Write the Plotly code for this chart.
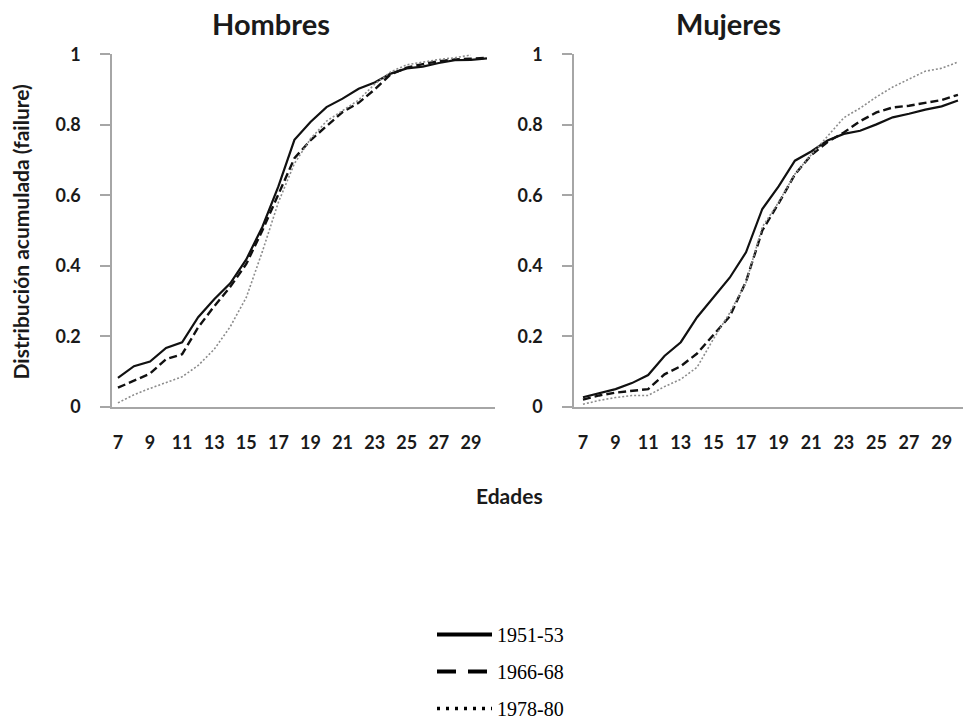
import plotly.graph_objects as go

ages = list(range(7, 31))
tick_ages = list(range(7, 31, 2))
y_ticks = [0, 0.2, 0.4, 0.6, 0.8, 1]
y_tick_text = ["0", "0.2", "0.4", "0.6", "0.8", "1"]

series_names = ["1951-53", "1966-68", "1978-80"]

# Hombres
h_1951 = [0.082, 0.115, 0.128, 0.167, 0.183, 0.254, 0.305, 0.350, 0.418, 0.510, 0.625, 0.757,
          0.808, 0.850, 0.874, 0.902, 0.920, 0.945, 0.960, 0.965, 0.975, 0.983, 0.984, 0.988]
h_1966 = [0.054, 0.075, 0.094, 0.135, 0.149, 0.225, 0.285, 0.340, 0.405, 0.500, 0.600, 0.705,
          0.756, 0.796, 0.836, 0.862, 0.900, 0.943, 0.962, 0.972, 0.980, 0.985, 0.988, 0.990]
h_1978 = [0.011, 0.034, 0.052, 0.069, 0.085, 0.117, 0.163, 0.227, 0.310, 0.440, 0.580, 0.690,
          0.760, 0.810, 0.840, 0.870, 0.915, 0.950, 0.970, 0.978, 0.985, 0.990, 0.998, None]

# Mujeres
m_1951 = [0.027, 0.038, 0.050, 0.067, 0.090, 0.144, 0.183, 0.254, 0.311, 0.366, 0.438, 0.561,
          0.625, 0.698, 0.724, 0.755, 0.774, 0.783, 0.801, 0.821, 0.831, 0.843, 0.852, 0.869]
m_1966 = [0.020, 0.032, 0.040, 0.044, 0.050, 0.092, 0.115, 0.151, 0.203, 0.256, 0.355, 0.500,
          0.577, 0.659, 0.714, 0.751, 0.778, 0.810, 0.835, 0.849, 0.854, 0.861, 0.870, 0.885]
m_1978 = [0.007, 0.018, 0.026, 0.032, 0.032, 0.057, 0.078, 0.112, 0.192, 0.266, 0.352, 0.510,
          0.580, 0.660, 0.715, 0.769, 0.820, 0.847, 0.879, 0.907, 0.929, 0.952, 0.960, 0.978]

W, H = 963, 728
styles = [
    dict(color="#111111", width=2.2, dash="solid"),
    dict(color="#111111", width=2.4, dash="8px,4px"),
    dict(color="#8c8c8c", width=1.6, dash="2px,2px"),
]
legend_styles = [
    dict(color="#000000", width=4, dash="solid"),
    dict(color="#000000", width=4, dash="19px,12px"),
    dict(color="#000000", width=3.5, dash="3px,6px"),
]

fig = go.Figure()
for name, ys, st in zip(series_names, [h_1951, h_1966, h_1978], styles):
    fig.add_trace(go.Scatter(x=ages, y=ys, mode="lines", line=st, name=name,
                             showlegend=False, xaxis="x", yaxis="y", hoverinfo="skip"))
for name, ys, st in zip(series_names, [m_1951, m_1966, m_1978], styles):
    fig.add_trace(go.Scatter(x=ages, y=ys, mode="lines", line=st, name=name,
                             showlegend=False, xaxis="x2", yaxis="y2", hoverinfo="skip"))
for i, (name, st) in enumerate(zip(series_names, legend_styles)):
    fig.add_trace(go.Scatter(x=[None], y=[None], mode="lines", line=st, name=name,
                             showlegend=True, legendgroup=f"g{i}", xaxis="x", yaxis="y"))

axis_gray = "#a6a6a6"
tickfont = dict(family="Lato", size=18, color="#1a1a1a", weight="bold")

def px_x(p):
    return p / W

def px_y(p):
    return 1 - p / H

xcommon = dict(tickmode="array", tickvals=tick_ages, ticktext=[str(a) for a in tick_ages],
               showline=True, linecolor=axis_gray, linewidth=1.6, ticks="", showgrid=False,
               zeroline=False, tickfont=tickfont, automargin=False, ticklabelstandoff=19)
ycommon = dict(range=[0, 1], tickmode="array", tickvals=y_ticks, ticktext=y_tick_text,
               showline=True, linecolor=axis_gray, linewidth=1.6, ticks="outside", ticklen=10,
               tickcolor=axis_gray, tickwidth=1.6, showgrid=False, zeroline=False,
               tickfont=tickfont, automargin=False, ticklabelstandoff=16)

title_font = dict(family="Lato", size=29, color="#1a1a1a", weight="bold")

fig.update_layout(
    width=W, height=H,
    margin=dict(l=0, r=0, t=0, b=0),
    paper_bgcolor="white", plot_bgcolor="white",
    xaxis=dict(domain=[px_x(112), px_x(495)], range=[6.63, 30.5], anchor="y", **xcommon),
    yaxis=dict(domain=[px_y(420), px_y(56)], anchor="x", **ycommon),
    xaxis2=dict(domain=[px_x(574), 1.0], range=[6.45, 30.31], anchor="y2", **xcommon),
    yaxis2=dict(domain=[px_y(420), px_y(56)], anchor="x2", **ycommon),
    legend=dict(x=px_x(432), y=px_y(635), xanchor="left", yanchor="top",
                font=dict(family="Liberation Serif", size=20, color="#000000"),
                itemwidth=55, tracegroupgap=8, bgcolor="rgba(0,0,0,0)"),
    showlegend=True,
    annotations=[
        dict(text="Hombres", x=px_x(271), y=px_y(24), xref="paper", yref="paper",
             xanchor="center", yanchor="middle", showarrow=False, font=title_font),
        dict(text="Mujeres", x=px_x(728), y=px_y(24), xref="paper", yref="paper",
             xanchor="center", yanchor="middle", showarrow=False, font=title_font),
        dict(text="Edades", x=px_x(510), y=px_y(512), xref="paper", yref="paper",
             xanchor="center", yanchor="middle", showarrow=False,
             font=dict(family="Lato", size=21, color="#1a1a1a", weight="bold")),
        dict(text="Distribución acumulada (failure)", x=px_x(20), y=px_y(240),
             xref="paper", yref="paper", xanchor="center", yanchor="middle",
             textangle=-90, showarrow=False,
             font=dict(family="Lato", size=21, color="#1a1a1a", weight="bold")),
    ],
)

fig.write_html("out.html")
